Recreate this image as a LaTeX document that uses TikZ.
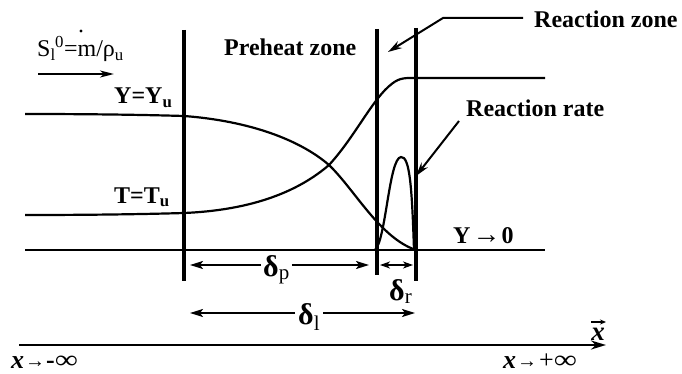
\documentclass[tikz,border=0pt]{standalone}
\usepackage{fontspec}
\setmainfont{Liberation Serif}
\usetikzlibrary{arrows.meta}
\begin{document}
\begin{tikzpicture}[x=1pt,y=-1pt,
  curve/.style={line width=2.2pt},
  bar/.style={line width=4pt},
  base/.style={line width=2.6pt},
  arr/.style={line width=2pt,-{Stealth[length=13pt,width=8pt,inset=3pt]}},
  darr/.style={line width=2pt,{Stealth[length=10pt,width=7pt,inset=3pt]}-{Stealth[length=10pt,width=7pt,inset=3pt]}},
  bl/.style={font=\fontsize{24}{28}\selectfont\bfseries, inner sep=0pt, anchor=base west},
  rl/.style={font=\fontsize{24}{28}\selectfont, inner sep=0pt, anchor=base west},
  dl/.style={font=\fontsize{30}{32}\selectfont, inner sep=0pt, anchor=base west},
  sl/.style={font=\fontsize{26}{28}\selectfont, inner sep=0pt, anchor=base west}]
\useasboundingbox (0,0) rectangle (682,374);

% vertical zone bars
\coordinate (b1t) at (184,30);  \coordinate (b1b) at (184,281);
\coordinate (b2t) at (377,29);  \coordinate (b2b) at (377,275);
\coordinate (b3t) at (416,28);  \coordinate (b3b) at (416,281);
\draw[bar] (b1t) -- (b1b);
\draw[bar] (b2t) -- (b2b);
\draw[bar] (b3t) -- (b3b);

% baseline
\coordinate (bl0) at (25,250); \coordinate (bl1) at (545,250);
\draw[base] (bl0) -- (bl1);

% Y curve
\draw[curve] (25,114) .. controls (100,114) and (150,115) .. (184,116)
  .. controls (250,121) and (300,140) .. (329,165)
  .. controls (355,190) and (380,238) .. (416,250);
% T curve
\draw[curve] (25,215) .. controls (100,215) and (150,214) .. (184,213)
  .. controls (255,210) and (300,190) .. (329,165)
  .. controls (352,140) and (368,108) .. (385,90)
  .. controls (395,80) and (400,78) .. (410,78) -- (545,78);
% reaction rate
\draw[curve] (375,250) .. controls (386,240) and (389,158) .. (401,157)
  .. controls (410,156) and (412,190) .. (414,250);

% labels
\node[rl] (S) at (37,57) {S\textsubscript{l}\kern-0.5pt\textsuperscript{0}=m/ρ\textsubscript{u}};
\fill (81,31) circle (1.6pt);
\coordinate (sa0) at (38,74); \coordinate (sa1) at (114,74);
\draw[line width=2pt,-{Stealth[length=14pt,width=7pt,inset=4pt]}] (sa0) -- (sa1);

\node[bl] (YY) at (114,104) {Y=Y\textsubscript{u}};
\node[bl] (TT) at (114,203) {T=T\textsubscript{u}};
\node[bl] (PZ) at (224,56) {Preheat zone};
\node[bl] (RZ) at (534,28) {Reaction zone};
\node[bl] (RR) at (466,117) {Reaction rate};
\node[bl] (Y0) at (453,243) {Y\kern2pt{\fontsize{28}{28}\selectfont →}\kern1pt0};

% reaction zone arrow
\coordinate (rz0) at (523,18); \coordinate (rz1) at (443,18); \coordinate (rz2) at (388,52);
\draw[line width=2pt,-{Stealth[length=14pt,width=8pt]}] (rz0) -- (rz1) -- (rz2);
% reaction rate arrow
\coordinate (rr0) at (459,121); \coordinate (rr1) at (416,176);
\draw[line width=2pt,-{Stealth[length=14pt,width=8pt]}] (rr0) -- (rr1);

% delta_p
\node[dl] (dp) at (263,276) {\textbf{δ}\textsubscript{\fontsize{21}{21}\selectfont p}};
\coordinate (dpL) at (190,265); \coordinate (dpR) at (369,265);
\draw[arr] (dp.west |- dpL) ++(-2,0) -- (dpL);
\draw[arr] (dp.east |- dpR) ++(2,0) -- (dpR);
% delta_r
\coordinate (drL) at (380,265); \coordinate (drR) at (413,265);
\draw[darr] (drL) -- (drR);
\node[dl] (dr) at (389,300) {\textbf{δ}\textsubscript{\fontsize{21}{21}\selectfont r}};
% delta_l
\node[dl] (dll) at (298,324) {\textbf{δ}\textsubscript{\fontsize{21}{21}\selectfont l}};
\coordinate (dlL) at (190,313); \coordinate (dlR) at (415,313);
\draw[arr] (dll.west |- dlL) ++(-3,0) -- (dlL);
\draw[arr] (dll.east |- dlR) ++(3,0) -- (dlR);

% x axis
\coordinate (xa0) at (19,345); \coordinate (xa1) at (606,345);
\draw[line width=2.4pt,-{Stealth[length=15pt,width=9pt]}] (xa0) -- (xa1);
\node[font=\fontsize{27}{28}\selectfont\bfseries\itshape, inner sep=0pt, anchor=base] (xv) at (598,340) {x};
\coordinate (xv0) at (591,322); \coordinate (xv1) at (606,322);
\draw[line width=1.2pt,-{Stealth[length=6pt,width=5pt]}] (xv0) -- (xv1);
\node[sl] (xm) at (11,368) {\textbf{\textit{x}}\kern1pt\raisebox{1pt}{\fontsize{20}{20}\selectfont →}\kern1pt\textbf{-}\scalebox{1.25}[1]{∞}};
\node[sl] (xp) at (503,368) {\textbf{\textit{x}}\kern1pt\raisebox{1pt}{\fontsize{20}{20}\selectfont →}\kern2pt+\scalebox{1.25}[1]{∞}};
\end{tikzpicture}
\end{document}
